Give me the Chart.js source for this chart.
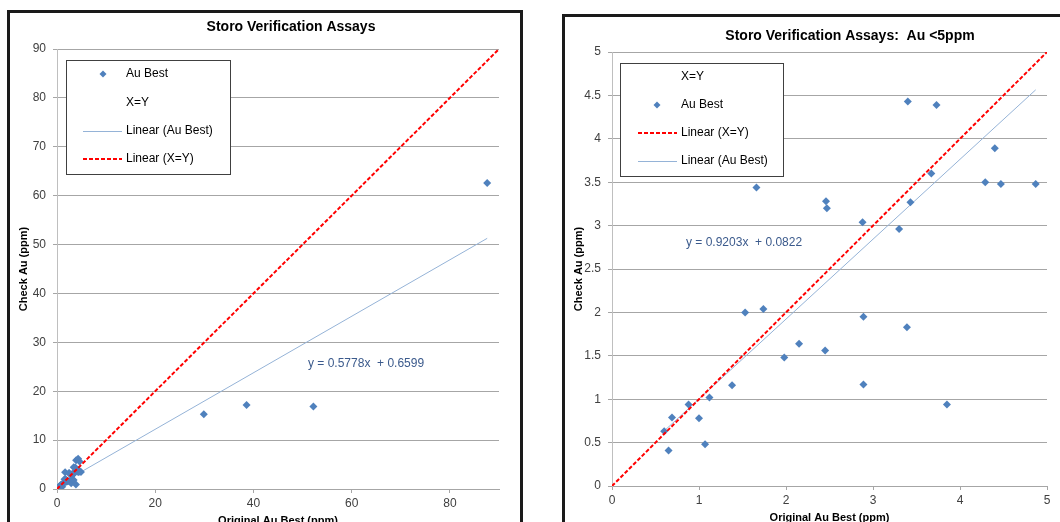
<!DOCTYPE html>
<html>
<head>
<meta charset="utf-8">
<script src="https://cdn.jsdelivr.net/npm/chart.js@4/dist/chart.umd.min.js"></script>
<style>
    body { margin: 0; background: #fff; width: 1060px; height: 522px; overflow: hidden; position: relative; }
    .frame { position: absolute; border: 3px solid #1a1a1a; overflow: hidden; background: #fff; }
    #frameAll { left: 7px; top: 10px; width: 510px; height: 520px; }
    #frameLow { left: 562px; top: 14px; width: 510px; height: 520px; }
    canvas { display: block; }
</style>
</head>
<body>
<div class="frame" id="frameAll"><canvas id="allChart" width="510" height="520"></canvas></div>
<div class="frame" id="frameLow"><canvas id="lowChart" width="510" height="520"></canvas></div>
<script>
// original vs check assays (ppm)
var originalAu = [0.60, 0.65, 0.69, 0.88, 1.00, 1.07, 1.12, 1.38, 1.53, 1.66, 1.74, 1.98, 2.15, 2.45, 2.46,
    2.47, 2.88, 2.89, 2.89, 3.30, 3.39, 3.40, 3.43, 3.67, 3.73, 3.85, 4.29, 4.40, 4.47, 4.87,
    3.9, 4.3, 4.6, 29.9, 38.6, 52.2, 87.6];
var checkAu = [0.63, 0.41, 0.79, 0.94, 0.78, 0.48, 1.02, 1.16, 2.00, 3.44, 2.04, 1.48, 1.64, 1.56, 3.28,
    3.20, 3.04, 1.95, 1.17, 2.96, 1.83, 4.43, 3.27, 3.60, 4.39, 0.94, 3.50, 3.89, 3.48, 3.48,
    5.9, 6.2, 5.6, 15.3, 17.2, 16.9, 62.6];

// fitted trend lines: [all data, Au < 5ppm]
var trendSlope = [0.5778, 0.9203];
var trendIntercept = [0.6599, 0.0822];

var allXTicks = [0, 20, 40, 60, 80];
var allYTicks = [0, 10, 20, 30, 40, 50, 60, 70, 80, 90];
var lowXTicks = [0, 1, 2, 3, 4, 5];
var lowYTicks = [0, 0.5, 1, 1.5, 2, 2.5, 3, 3.5, 4, 4.5, 5];

var blue = '#4F81BD';
var trendBlue = '#95B3D7';
var gridGrey = '#A6A6A6';

function makePoints(limit) {
    var pts = [];
    for (var i = 0; i < originalAu.length; i++) {
        if (limit === null || (originalAu[i] < limit && checkAu[i] < limit)) {
            pts.push({x: originalAu[i], y: checkAu[i]});
        }
    }
    return pts;
}

function trendPoints(pts, k) {
    var xs = pts.map(function(p) { return p.x; });
    var lo = Math.min.apply(null, xs), hi = Math.max.apply(null, xs);
    return [
        {x: lo, y: trendSlope[k] * lo + trendIntercept[k]},
        {x: hi, y: trendSlope[k] * hi + trendIntercept[k]}
    ];
}

// title, legend box and trend equation drawn on top of the plot
var decorPlugin = {
    id: 'decor',
    afterDraw: function(chart, args, opts) {
        var ctx = chart.ctx;
        ctx.save();
        ctx.fillStyle = '#000';
        ctx.font = 'bold 14px "Liberation Sans", Arial, sans-serif';
        ctx.textAlign = 'center';
        ctx.textBaseline = 'middle';
        ctx.fillText(opts.title, opts.titleX, opts.titleY);

        var b = opts.box;
        ctx.fillStyle = '#fff';
        ctx.fillRect(b.x, b.y, b.w, b.h);
        ctx.strokeStyle = '#404040';
        ctx.lineWidth = 1;
        ctx.strokeRect(b.x + 0.5, b.y + 0.5, b.w, b.h);

        ctx.font = '12px "Liberation Sans", Arial, sans-serif';
        ctx.textAlign = 'left';
        opts.items.forEach(function(it, i) {
            var y = opts.rowY[i];
            if (it.kind === 'marker') {
                ctx.fillStyle = blue;
                ctx.beginPath();
                ctx.moveTo(opts.markerX, y - 3.5);
                ctx.lineTo(opts.markerX + 3.5, y);
                ctx.lineTo(opts.markerX, y + 3.5);
                ctx.lineTo(opts.markerX - 3.5, y);
                ctx.closePath();
                ctx.fill();
            } else if (it.kind === 'trend') {
                ctx.strokeStyle = trendBlue;
                ctx.lineWidth = 1;
                ctx.setLineDash([]);
                ctx.beginPath();
                ctx.moveTo(opts.lineX0, y + 0.5);
                ctx.lineTo(opts.lineX1, y + 0.5);
                ctx.stroke();
            } else if (it.kind === 'dash') {
                ctx.strokeStyle = '#FF0000';
                ctx.lineWidth = 2;
                ctx.setLineDash([4, 2]);
                ctx.beginPath();
                ctx.moveTo(opts.lineX0, y);
                ctx.lineTo(opts.lineX1, y);
                ctx.stroke();
                ctx.setLineDash([]);
            }
            ctx.fillStyle = '#000';
            ctx.fillText(it.label, opts.textX, y);
        });

        ctx.fillStyle = '#3B5A8C';
        ctx.fillText(opts.eq, opts.eqX, opts.eqY);
        ctx.restore();
    }
};

function buildChart(canvasId, limit, k, xTicks, yTicks, area, decor) {
    var pts = makePoints(limit);
    var xMax = limit === null ? 90 : limit;
    var yMax = limit === null ? 90 : limit;
    var ctx = document.getElementById(canvasId).getContext('2d');
    var tickFont = {family: '"Liberation Sans", Arial, sans-serif', size: 12};
    var titleFont = {family: '"Liberation Sans", Arial, sans-serif', size: 11, weight: 'bold'};
    var plainLabel = function(value) { return String(value); };

    return new Chart(ctx, {
        type: 'scatter',
        data: {
            datasets: [{
                label: 'Linear (X=Y)',
                data: [{x: 0, y: 0}, {x: xMax, y: yMax}],
                showLine: true,
                borderColor: '#FF0000',
                borderWidth: 2,
                borderDash: [4, 2],
                pointRadius: 0,
                order: 0
            }, {
                label: 'Au Best',
                data: pts,
                pointStyle: 'rectRot',
                pointRadius: 4,
                backgroundColor: blue,
                borderColor: blue,
                borderWidth: 0,
                order: 1
            }, {
                label: 'Linear (Au Best)',
                data: trendPoints(pts, k),
                showLine: true,
                borderColor: trendBlue,
                borderWidth: 1,
                pointRadius: 0,
                order: 2
            }]
        },
        options: {
            responsive: false,
            animation: false,
            layout: { padding: { left: 0, top: area.top, right: area.right, bottom: area.bottom } },
            plugins: {
                legend: { display: false },
                tooltip: { enabled: false },
                decor: decor
            },
            scales: {
                x: {
                    type: 'linear',
                    min: 0,
                    max: xMax,
                    afterBuildTicks: function(scale) {
                        scale.ticks = xTicks.map(function(v) { return {value: v}; });
                    },
                    afterFit: function(scale) { scale.height = area.xHeight; },
                    ticks: { font: tickFont, color: '#404040', padding: 3, maxRotation: 0, callback: plainLabel },
                    grid: { drawOnChartArea: false, color: gridGrey, tickLength: 4 },
                    border: { color: gridGrey },
                    title: { display: true, text: 'Original Au Best (ppm)', font: titleFont, color: '#000', padding: 0 }
                },
                y: {
                    type: 'linear',
                    min: 0,
                    max: yMax,
                    afterBuildTicks: function(scale) {
                        scale.ticks = yTicks.map(function(v) { return {value: v}; });
                    },
                    afterFit: function(scale) { scale.width = 47; },
                    ticks: { font: tickFont, color: '#404040', padding: 7, callback: plainLabel },
                    grid: { color: gridGrey, tickLength: 4 },
                    border: { color: '#BFBFBF' },
                    title: { display: true, text: 'Check Au (ppm)', font: titleFont, color: '#000', padding: {top: 7, bottom: 0} }
                }
            }
        },
        plugins: [decorPlugin]
    });
}

buildChart('allChart', null, 0, allXTicks, allYTicks,
    { top: 36, right: 21, bottom: 5, xHeight: 39 },
    {
        title: 'Storo Verification Assays', titleX: 281, titleY: 14,
        box: {x: 56, y: 47, w: 164, h: 114},
        items: [
            {label: 'Au Best', kind: 'marker'},
            {label: 'X=Y', kind: 'none'},
            {label: 'Linear (Au Best)', kind: 'trend'},
            {label: 'Linear (X=Y)', kind: 'dash'}
        ],
        rowY: [61, 90, 118, 146],
        markerX: 93, lineX0: 73, lineX1: 112, textX: 116,
        eq: 'y = 0.5778x  + 0.6599', eqX: 298, eqY: 351
    });

buildChart('lowChart', 5, 1, lowXTicks, lowYTicks,
    { top: 35, right: 28, bottom: 12, xHeight: 39 },
    {
        title: 'Storo Verification Assays:  Au <5ppm', titleX: 285, titleY: 19,
        box: {x: 55, y: 46, w: 163, h: 113},
        items: [
            {label: 'X=Y', kind: 'none'},
            {label: 'Au Best', kind: 'marker'},
            {label: 'Linear (X=Y)', kind: 'dash'},
            {label: 'Linear (Au Best)', kind: 'trend'}
        ],
        rowY: [60, 88, 116, 144],
        markerX: 92, lineX0: 73, lineX1: 112, textX: 116,
        eq: 'y = 0.9203x  + 0.0822', eqX: 121, eqY: 226
    });
</script>
</body>
</html>
